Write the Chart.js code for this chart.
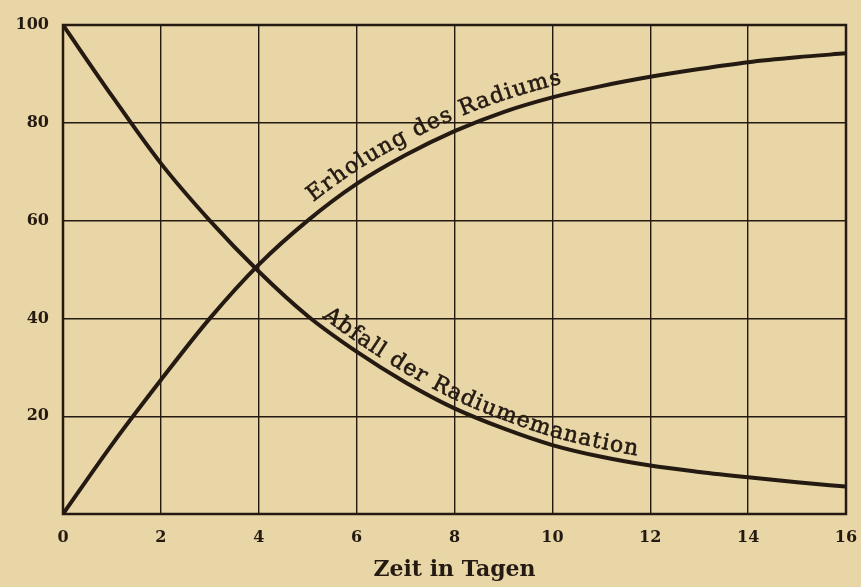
<!DOCTYPE html>
<html><head><meta charset="utf-8">
<script src="https://cdn.jsdelivr.net/npm/chart.js@4.4.1/dist/chart.umd.min.js"></script>
<style>html,body{margin:0;padding:0;background:#e8d6a6;} #wrap{width:861px;height:587px;}</style>
</head><body><div id="wrap"><canvas id="c" width="861" height="587"></canvas></div>
<script>
// ---- data ----
const days = [0,1,2,3,4,5,6,7,8,9,10,11,12,13,14,15,16];
const erholungDesRadiums = [0,14.2,27.4,40,51,60,67.5,73.4,78.3,82.2,85.2,87.5,89.4,91.0,92.4,93.4,94.2];
const abfallDerEmanation = [100,85.5,71.7,60,49.6,40.5,33.2,26.9,21.6,17.5,14.1,11.7,9.9,8.6,7.5,6.5,5.6];
const xTickValues = [0,2,4,6,8,10,12,14,16];
const yTickValues = [0,20,40,60,80,100];
const xTitle = 'Zeit in Tagen';
const curveLabelTexts = ['Erholung des Radiums', 'Abfall der Radiumemanation'];
const curveLabelSpans = [[5.25, 10.25], [5.2, 11.7]]; // start/end (days)

// ---- styles ----
const INK = '#241a12';
const PAPER = '#e8d6a6';
const labelStyle = [
  {font: '22px "DejaVu Serif"', offset: 11},
  {font: '22px "DejaVu Serif"', offset: 8}
];

const toPts = (ys) => days.map((d, i) => ({x: d, y: ys[i]}));

const bgPlugin = {
  id: 'bg',
  beforeDraw(chart) {
    const c = chart.ctx;
    c.save(); c.fillStyle = PAPER; c.fillRect(0, 0, chart.width, chart.height); c.restore();
  }
};
const framePlugin = {
  id: 'frame',
  beforeDatasetsDraw(chart) {
    const a = chart.chartArea, c = chart.ctx;
    c.save(); c.strokeStyle = INK; c.lineWidth = 2.5;
    c.strokeRect(a.left, a.top, a.right - a.left, a.bottom - a.top);
    c.restore();
  }
};

function sampleCurve(meta) {
  const pts = meta.data, out = [];
  for (let i = 0; i < pts.length - 1; i++) {
    const a = pts[i], b = pts[i + 1];
    const c1x = a.cp2x ?? a.x, c1y = a.cp2y ?? a.y, c2x = b.cp1x ?? b.x, c2y = b.cp1y ?? b.y;
    for (let k = 0; k < 30; k++) {
      const t = k / 30, u = 1 - t;
      out.push({
        x: u*u*u*a.x + 3*u*u*t*c1x + 3*u*t*t*c2x + t*t*t*b.x,
        y: u*u*u*a.y + 3*u*u*t*c1y + 3*u*t*t*c2y + t*t*t*b.y
      });
    }
  }
  const l = pts[pts.length - 1]; out.push({x: l.x, y: l.y});
  let s = 0; out[0].s = 0;
  for (let i = 1; i < out.length; i++) { s += Math.hypot(out[i].x - out[i-1].x, out[i].y - out[i-1].y); out[i].s = s; }
  return out;
}
function atS(curve, s) {
  let i = 1;
  while (i < curve.length - 1 && curve[i].s < s) i++;
  const a = curve[i - 1], b = curve[i];
  const t = (s - a.s) / ((b.s - a.s) || 1);
  return {x: a.x + (b.x - a.x) * t, y: a.y + (b.y - a.y) * t, ang: Math.atan2(b.y - a.y, b.x - a.x)};
}
function sAtX(curve, x) {
  for (let i = 1; i < curve.length; i++) {
    if (curve[i].x >= x) {
      const a = curve[i - 1], b = curve[i];
      const t = (x - a.x) / ((b.x - a.x) || 1);
      return a.s + (b.s - a.s) * t;
    }
  }
  return curve[curve.length - 1].s;
}
const curveTextPlugin = {
  id: 'curveText',
  afterDatasetsDraw(chart) {
    const c = chart.ctx, xs = chart.scales.x;
    curveLabelTexts.forEach((text, di) => {
      const curve = sampleCurve(chart.getDatasetMeta(di));
      const st = labelStyle[di];
      c.save();
      c.font = st.font; c.fillStyle = INK; c.strokeStyle = INK; c.lineWidth = 0.6;
      c.textAlign = 'center'; c.textBaseline = 'alphabetic';
      const chars = [...text];
      const widths = chars.map(ch => c.measureText(ch).width);
      const total = widths.reduce((p, q) => p + q, 0);
      const s0 = sAtX(curve, xs.getPixelForValue(curveLabelSpans[di][0]));
      const s1 = sAtX(curve, xs.getPixelForValue(curveLabelSpans[di][1]));
      const gap = (s1 - s0 - total) / (chars.length - 1);
      let s = s0;
      chars.forEach((ch, k) => {
        const p = atS(curve, s + widths[k] / 2);
        const nx = Math.sin(p.ang), ny = -Math.cos(p.ang);
        c.save();
        c.translate(p.x + nx * st.offset, p.y + ny * st.offset);
        c.rotate(p.ang);
        c.fillText(ch, 0, 0);
        c.strokeText(ch, 0, 0);
        c.restore();
        s += widths[k] + gap;
      });
      c.restore();
    });
  }
};

const tickFont = {family: '"DejaVu Serif"', size: 16, weight: 'bold'};

new Chart(document.getElementById('c'), {
  type: 'line',
  data: {
    datasets: [
      {label: curveLabelTexts[0], data: toPts(erholungDesRadiums), borderColor: INK, borderWidth: 4, pointRadius: 0, cubicInterpolationMode: 'monotone', fill: false},
      {label: curveLabelTexts[1], data: toPts(abfallDerEmanation), borderColor: INK, borderWidth: 4, pointRadius: 0, cubicInterpolationMode: 'monotone', fill: false}
    ]
  },
  options: {
    responsive: false,
    animation: false,
    layout: {padding: {left: 0, right: 15, top: 25, bottom: 0}},
    plugins: {legend: {display: false}, tooltip: {enabled: false}},
    scales: {
      x: {
        type: 'linear', min: 0, max: 16,
        afterBuildTicks(s) { s.ticks = xTickValues.map(v => ({value: v})); },
        afterFit(s) { s.height = 73; },
        grid: {color: INK, lineWidth: 1.4, drawTicks: true, tickLength: 14, tickColor: 'rgba(0,0,0,0)'},
        border: {display: false},
        ticks: {color: INK, font: tickFont, padding: 0, maxRotation: 0},
        title: {display: true, text: xTitle, color: INK, font: {family: '"DejaVu Serif"', size: 22, weight: 'bold'}, padding: {top: 0, bottom: 4}}
      },
      y: {
        type: 'linear', min: 0, max: 100,
        afterBuildTicks(s) { s.ticks = yTickValues.map(v => ({value: v})); },
        afterFit(s) { s.width = 63; },
        grid: {color: INK, lineWidth: 1.4, drawTicks: false},
        border: {display: false},
        ticks: {color: INK, font: tickFont, padding: 14, callback: v => v === 0 ? '' : String(v)}
      }
    }
  },
  plugins: [bgPlugin, framePlugin, curveTextPlugin]
});
</script></body></html>
